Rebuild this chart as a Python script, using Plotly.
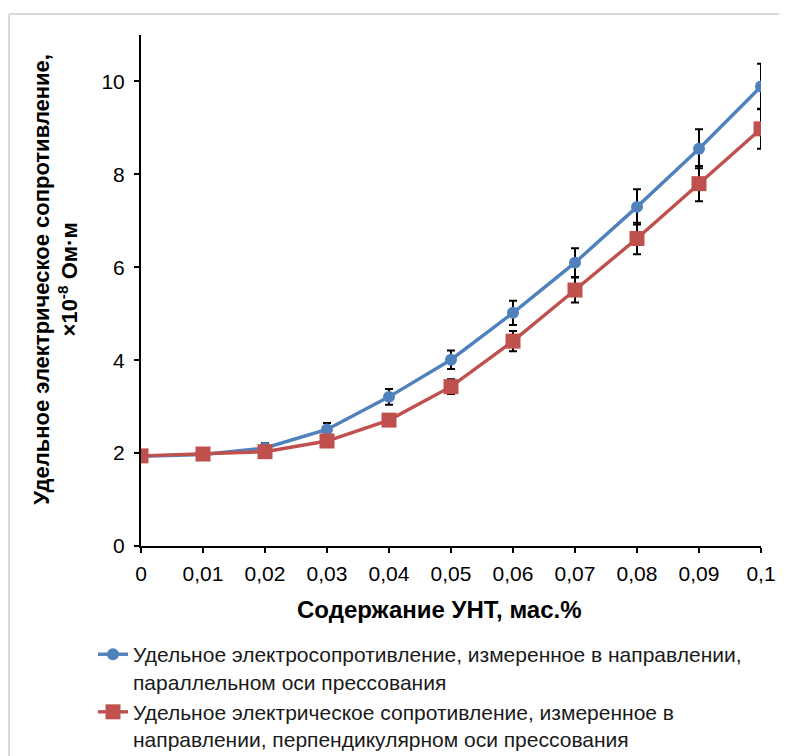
import plotly.graph_objects as go

x_vals = [0, 0.01, 0.02, 0.03, 0.04, 0.05, 0.06, 0.07, 0.08, 0.09, 0.1]
x_ticktext = ["0", "0,01", "0,02", "0,03", "0,04", "0,05", "0,06", "0,07", "0,08", "0,09", "0,1"]

parallel = [1.93, 1.97, 2.11, 2.51, 3.21, 4.01, 5.02, 6.10, 7.30, 8.55, 9.89]
parallel_err = [0.0, 0.03, 0.10, 0.14, 0.17, 0.20, 0.26, 0.31, 0.38, 0.42, 0.49]

perpendicular = [1.94, 1.98, 2.03, 2.26, 2.71, 3.43, 4.41, 5.51, 6.62, 7.80, 8.98]
perpendicular_err = [0.0, 0.02, 0.04, 0.07, 0.10, 0.16, 0.22, 0.27, 0.34, 0.38, 0.43]

y_tickvals = [0, 2, 4, 6, 8, 10]

name_par = "Удельное электросопротивление, измеренное в направлении,<br>параллельном оси прессования"
name_perp = "Удельное электрическое сопротивление, измеренное в<br>направлении, перпендикулярном оси прессования"
y_title = "<b>Удельное электрическое сопротивление,<br>×10<sup>-8</sup> Ом·м</b>"
x_title = "<b>Содержание УНТ, мас.%</b>"

BLUE = "#4F81BD"
RED = "#C0504D"

fig = go.Figure()
fig.add_trace(go.Scatter(
    x=x_vals, y=parallel, name=name_par, mode="lines+markers",
    line=dict(color=BLUE, width=3.4),
    marker=dict(symbol="circle", size=12, color=BLUE),
    error_y=dict(type="data", array=parallel_err, color="black", thickness=2, width=4),
))
fig.add_trace(go.Scatter(
    x=x_vals, y=perpendicular, name=name_perp, mode="lines+markers",
    line=dict(color=RED, width=3.4),
    marker=dict(symbol="square", size=15, color=RED),
    error_y=dict(type="data", array=perpendicular_err, color="black", thickness=2, width=4),
))

font_family = "Liberation Sans, Arial, sans-serif"
border = dict(color="#D9D9D9", width=2)

fig.update_layout(
    width=779, height=748,
    paper_bgcolor="white", plot_bgcolor="white",
    margin=dict(l=133, r=26, t=27, b=210, autoexpand=False),
    font=dict(family=font_family, size=21, color="black"),
    showlegend=True,
    legend=dict(
        xref="container", yref="container",
        x=0.1091, y=0.163, xanchor="left", yanchor="top",
        font=dict(size=21, color="#1a1a1a"),
        itemwidth=30, valign="top", tracegroupgap=0,
        bgcolor="rgba(0,0,0,0)",
    ),
    xaxis=dict(
        range=[0, 0.1], tickvals=x_vals, ticktext=x_ticktext,
        showline=True, linecolor="black", linewidth=2,
        ticks="outside", ticklen=5, tickcolor="black", tickwidth=2,
        ticklabelstandoff=3,
        showgrid=False, zeroline=False,
        tickfont=dict(size=21),
    ),
    yaxis=dict(
        range=[0, 11], tickvals=y_tickvals,
        showline=True, linecolor="black", linewidth=2,
        ticks="outside", ticklen=5, tickcolor="black", tickwidth=2,
        ticklabelstandoff=5,
        showgrid=False, zeroline=False,
        tickfont=dict(size=21),
    ),
    annotations=[
        dict(text=y_title, textangle=-90, xref="paper", yref="paper",
             x=-0.1375, y=0.5225, xanchor="center", yanchor="middle",
             showarrow=False, font=dict(size=22, color="black")),
        dict(text=x_title, xref="paper", yref="paper",
             x=0.482, y=-0.125, xanchor="center", yanchor="middle",
             showarrow=False, font=dict(size=24, color="black")),
    ],
    shapes=[
        dict(type="line", xref="paper", yref="paper", x0=-0.2129, x1=1.042, y0=1.041, y1=1.041, line=border, layer="below"),
        dict(type="line", xref="paper", yref="paper", x0=-0.2129, x1=-0.2129, y0=1.041, y1=-0.411, line=border, layer="below"),
    ],
)

fig.write_html("out.html")
